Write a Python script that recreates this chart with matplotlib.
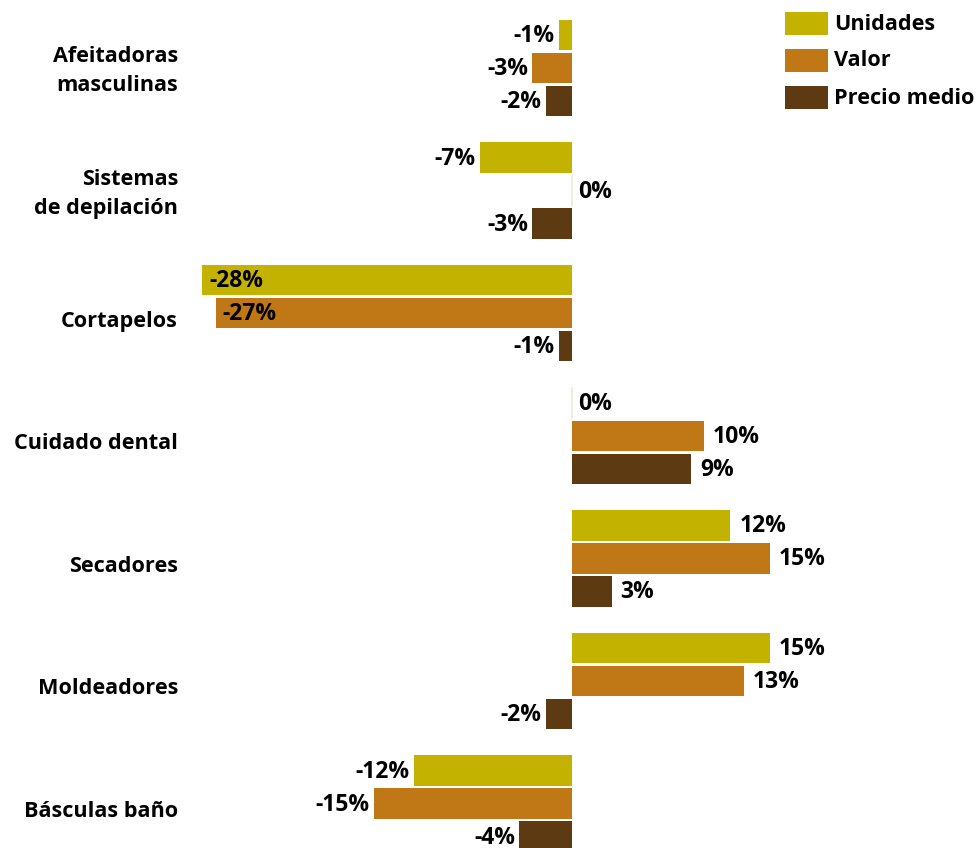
import matplotlib
matplotlib.use("Agg")
import matplotlib.pyplot as plt
from matplotlib.patches import Rectangle
import numpy as np

plt.rcParams['font.family'] = ['Open Sans', 'DejaVu Sans']

categories = ["Afeitadoras\nmasculinas", "Sistemas\nde depilación", "Cortapelos",
              "Cuidado dental", "Secadores", "Moldeadores", "Básculas baño"]
series_names = ["Unidades", "Valor", "Precio medio"]
unidades = [-1, -7, -28, 0, 12, 15, -12]
valor = [-3, 0, -27, 10, 15, 13, -15]
precio = [-2, -3, -1, 9, 3, -2, -4]
colors = ["#C4B200", "#C07715", "#5E3A13"]

W, H = 976, 848
fig = plt.figure(figsize=(W / 100, H / 100), dpi=100)
left_px = 190
ax = fig.add_axes([left_px / W, 0, 1 - left_px / W, 1])
scale = 13.2  # px per percent
zero_px = 572
ax.set_xlim((left_px - zero_px) / scale, (W - zero_px) / scale)
ax.set_ylim(H, 0)
ax.axis('off')

pitch = 122.6
offset = 33
bar_h = 30.5
centers = 68 + pitch * np.arange(len(categories))
series = [unidades, valor, precio]
val_fs = 16.5
cat_fs = 15.6
pad = 6 / scale

for si, (vals, col) in enumerate(zip(series, colors)):
    ys = centers + (si - 1) * offset
    for y, v in zip(ys, vals):
        if v == 0:
            ax.plot([0, 0], [y - bar_h / 2, y + bar_h / 2], color="#EFE8D8", lw=1.2)
            ax.text(pad, y + 1, "0%", ha='left', va='center', fontsize=val_fs, fontweight='bold')
            continue
        ax.barh(y, v, height=bar_h, color=col, linewidth=0)
        txt = f"{v}%"
        if v <= -20:
            ax.text(v + 7 / scale, y + 1, txt, ha='left', va='center', fontsize=val_fs, fontweight='bold')
        elif v < 0:
            ax.text(v - 4 / scale, y + 1, txt, ha='right', va='center', fontsize=val_fs, fontweight='bold')
        else:
            ax.text(v + 9 / scale, y + 1, txt, ha='left', va='center', fontsize=val_fs, fontweight='bold')

for c, lab in zip(centers, categories):
    dy = 3 if "\n" in lab else 8
    fig.text(178 / W, 1 - (c + dy) / H, lab, ha='right', va='center', fontsize=cat_fs,
             fontweight='bold', linespacing=1.5)

# legend
for i, (name, col) in enumerate(zip(series_names, colors)):
    top = 12 + i * 37
    fig.patches.append(Rectangle((785 / W, 1 - (top + 23) / H), 43 / W, 23 / H,
                                 transform=fig.transFigure, color=col, lw=0))
    fig.text(834 / W, 1 - (top + 12) / H, name, ha='left', va='center',
             fontsize=cat_fs, fontweight='bold')

fig.savefig("out.png", dpi=100)
